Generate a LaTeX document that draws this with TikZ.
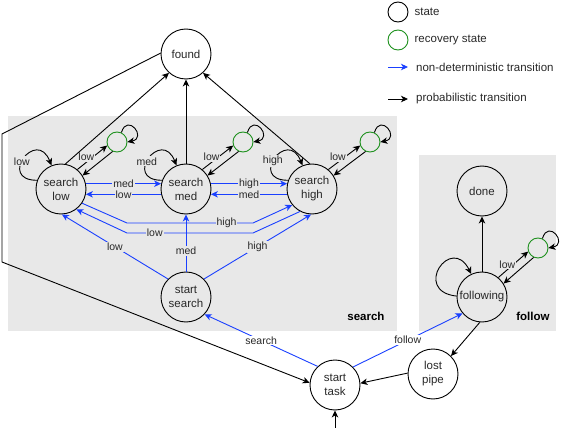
\documentclass[tikz,border=0pt]{standalone}
\usepackage{fontspec}
\setmainfont{Liberation Sans}
\usepackage{tikz}
\usetikzlibrary{arrows.meta, positioning}

\definecolor{ndblue}{RGB}{26,64,255}
\definecolor{recgreen}{RGB}{30,145,30}
\definecolor{boxgray}{RGB}{232,232,232}
\definecolor{txtgray}{RGB}{40,40,40}

\begin{document}
\begin{tikzpicture}[x=1pt, y=-1pt,
    stnode/.style={circle, draw, line width=0.9pt, minimum size=50pt, inner sep=0pt, align=center, text=txtgray, font=\fontsize{11.5}{14}\selectfont},
    recnode/.style={circle, draw=recgreen, line width=0.9pt, minimum size=20pt, inner sep=0pt},
    prob/.style={-{Stealth[length=7pt,width=6.5pt,inset=2pt]}, line width=0.9pt},
    nondet/.style={prob, draw=ndblue},
    lbl/.style={fill=boxgray, inner sep=1pt, text=txtgray, font=\fontsize{10.5}{12}\selectfont},
    lblw/.style={lbl, fill=white},
    legtext/.style={inner sep=0pt, text=txtgray, font=\fontsize{11.5}{13}\selectfont}]
            \useasboundingbox (0,0) rectangle (566,428);
            \fill[boxgray] (8,116) rectangle (397,331);
            \fill[boxgray] (419,155) rectangle (556,331);
            \node[anchor=east, font=\bfseries\fontsize{11.5}{13}\selectfont] (searchtag) at (388,316) {search};
            \node[anchor=east, font=\bfseries\fontsize{11.5}{13}\selectfont] (followtag) at (553,316) {follow};

            \node[stnode] (found) at (186,54) {found};
            \node[stnode] (slow) at (61,189) {search\\low};
            \node[stnode] (smed) at (186,189) {search\\med};
            \node[stnode] (shigh) at (312,189) {search\\high};
            \node[stnode] (sstart) at (186,297) {start\\search};
            \node[stnode] (starttask) at (335,385) {start\\task};
            \node[stnode] (lostpipe) at (433,374) {lost\\pipe};
            \node[stnode] (following) at (482,297) {following};
            \node[stnode] (done) at (482,191) {done};
            \node[recnode] (rlow) at (117,142) {};
            \node[recnode] (rmed) at (243,142) {};
            \node[recnode] (rhigh) at (370,142) {};
            \node[recnode] (rfollow) at (538,248) {};

            % legend
            \node[recnode, draw=black] (legstate) at (398,12) {};
            \node[legtext, right=6pt of legstate] (legstatetext) {state};
            \node[recnode] (legrec) at (398,40) {};
            \node[legtext, right=6pt of legrec] (legrectext) {recovery state};
            \coordinate (legnda) at (388,67);
            \coordinate (legndb) at (408,67);
            \draw[nondet] (legnda) -- (legndb);
            \node[legtext, right=8pt of legndb] (legndtext) {non-deterministic transition};
            \coordinate (legpra) at (388,99);
            \coordinate (legprb) at (408,99);
            \draw[prob] (legpra) -- (legprb);
            \node[legtext, right=8pt of legprb] (legprtext) {probabilistic transition};

            % search levels
            \draw[nondet] (slow.12) -- node[lbl] {med} (smed.168);
            \draw[nondet] (smed.192) -- node[lbl] {low} (slow.-12);
            \draw[nondet] (smed.12) -- node[lbl] {high} (shigh.168);
            \draw[nondet] (shigh.192) -- node[lbl] {med} (smed.-12);
            \draw[nondet] (slow.-34) -- (127,223) -- node[lbl, pos=0.79] {high} (253,223) -- (shigh.-141);
            \draw[nondet] (shigh.-118) -- (253,233) -- node[lbl, pos=0.78] {low} (127,233) -- (slow.-53);
            \draw[nondet] (sstart.135) -- node[lbl] {low} (slow.-88);
            \draw[nondet] (sstart) -- node[lbl, pos=0.36] {med} (smed);
            \draw[nondet] (sstart.45) -- node[lbl] {high} (shigh.-92);
            \draw[prob] (slow.160) .. controls +(-40,0) and +(-15,-38) .. (slow.112) node[lbl, pos=0.45] {low};
            \draw[prob] (smed.160) .. controls +(-40,0) and +(-15,-38) .. (smed.112) node[lbl, pos=0.45] {med};
            \draw[prob] (shigh.160) .. controls +(-40,0) and +(-15,-38) .. (shigh.112) node[lbl, pos=0.45] {high};

            % recovery states
            \draw[prob] (slow.50) -- node[lbl, pos=0.3, above] {low} (rlow.200);
            \draw[prob] (rlow.245) -- (slow.32);
            \draw[prob] (rlow.65) .. controls +(6,-20) and +(20,-4) .. (rlow.0);
            \draw[prob] (smed.50) -- node[lbl, pos=0.3, above] {low} (rmed.200);
            \draw[prob] (rmed.245) -- (smed.32);
            \draw[prob] (rmed.65) .. controls +(6,-20) and +(20,-4) .. (rmed.0);
            \draw[prob] (shigh.50) -- node[lbl, pos=0.3, above] {low} (rhigh.200);
            \draw[prob] (rhigh.245) -- (shigh.32);
            \draw[prob] (rhigh.65) .. controls +(6,-20) and +(20,-4) .. (rhigh.0);
            \draw[prob] (following.50) -- node[lbl, pos=0.3, above] {low} (rfollow.200);
            \draw[prob] (rfollow.245) -- (following.32);
            \draw[prob] (rfollow.65) .. controls +(6,-20) and +(20,-4) .. (rfollow.0);

            % found
            \draw[prob] (slow.80) -- (found.228);
            \draw[prob] (smed) -- (found);
            \draw[prob] (shigh.95) -- (found.-48);
            \draw[prob] (found.178) -- (2,134) -- (2,262) -- (starttask.175);

            % follow
            \draw[prob] (following.178) .. controls +(-45,-5) and +(-20,-40) .. (following.115);
            \draw[prob] (following) -- (done);
            \draw[prob] (following.-95) -- (lostpipe.45);
            \draw[prob] (lostpipe.178) -- (starttask.4);
            \draw[nondet] (starttask.133) -- node[lblw] {search} (sstart.-43);
            \draw[nondet] (starttask.45) -- node[lblw] {follow} (following.220);
            \coordinate (entry) at (335,428);
            \draw[prob] (entry) -- (starttask);
        \end{tikzpicture}
\end{document}
